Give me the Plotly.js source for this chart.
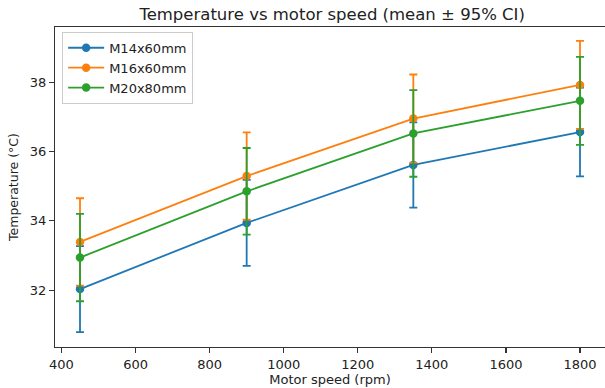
<!DOCTYPE html>
<html>
<head>
<meta charset="utf-8">
<script src="https://cdn.plot.ly/plotly-3.0.1.min.js"></script>
<style>html,body{margin:0;padding:0;background:#fff;}#chart{width:605px;height:388px;}</style>
</head>
<body>
<div id="chart"></div>
<script>
const speeds = [450, 900, 1350, 1800];
const seriesNames = ["M14x60mm", "M16x60mm", "M20x80mm"];
const m14Mean = [32.03, 33.94, 35.61, 36.56];
const m14CI = [1.24, 1.24, 1.23, 1.28];
const m16Mean = [33.39, 35.29, 36.95, 37.92];
const m16CI = [1.26, 1.26, 1.27, 1.27];
const m20Mean = [32.94, 34.85, 36.52, 37.46];
const m20CI = [1.26, 1.25, 1.25, 1.27];
const colors = ["#1f77b4", "#ff7f0e", "#2ca02c"];

const means = [m14Mean, m16Mean, m20Mean];
const cis = [m14CI, m16CI, m20CI];

const traces = seriesNames.map((name, i) => ({
  x: speeds,
  y: means[i],
  name: name,
  type: "scatter",
  mode: "lines+markers",
  line: {color: colors[i], width: 1.8},
  marker: {color: colors[i], size: 8.5},
  error_y: {type: "data", array: cis[i], visible: true, color: colors[i], thickness: 1.8, width: 4}
}));

const FONT = "DejaVu Sans";
const axisCommon = {
  showline: true, linecolor: "#333", linewidth: 1.2,
  ticks: "outside", ticklen: 5, tickwidth: 1.2, tickcolor: "#333",
  showgrid: false, zeroline: false,
  tickfont: {family: FONT, size: 13, color: "#222"}
};

const layout = {
  width: 605, height: 388,
  margin: {l: 55, r: 0, t: 27, b: 41},
  paper_bgcolor: "#fff", plot_bgcolor: "#fff",
  font: {family: FONT, size: 13, color: "#222"},
  title: {text: "Temperature vs motor speed (mean ± 95% CI)", font: {family: FONT, size: 16.5, color: "#222"}, x: 0.549, xanchor: "center", y: 0.963, yanchor: "middle"},
  xaxis: Object.assign({}, axisCommon, {
    mirror: true,
    range: [382.5, 1867.5], tickvals: [400, 600, 800, 1000, 1200, 1400, 1600, 1800],
    title: {text: "Motor speed (rpm)", font: {family: FONT, size: 13, color: "#222"}, standoff: 0}
  }),
  yaxis: Object.assign({}, axisCommon, {
    mirror: false,
    range: [30.36, 39.59], tickvals: [32, 34, 36, 38],
    title: {text: "Temperature (°C)", font: {family: FONT, size: 12.5, color: "#222"}, standoff: 8}
  }),
  legend: {x: 0.013, y: 0.985, xanchor: "left", yanchor: "top", bgcolor: "rgba(255,255,255,0.8)", bordercolor: "#ccc", borderwidth: 1, font: {family: FONT, size: 13, color: "#222"}, tracegroupgap: 0, itemwidth: 36},
  showlegend: true
};

Plotly.newPlot("chart", traces, layout, {displayModeBar: false, staticPlot: true});
</script>
</body>
</html>
